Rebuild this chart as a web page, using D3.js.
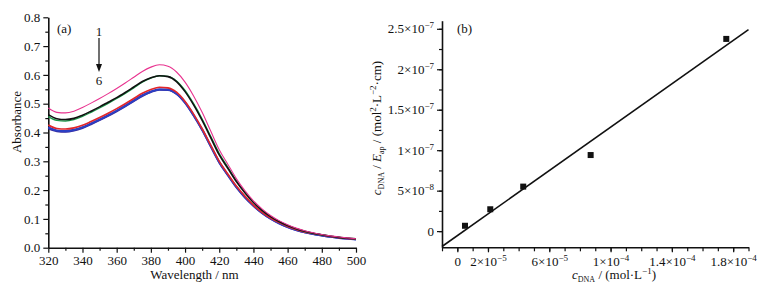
<!DOCTYPE html>
<html><head><meta charset="utf-8">
<script src="https://cdn.jsdelivr.net/npm/d3@7/dist/d3.min.js"></script>
<style>
html,body{margin:0;padding:0;background:#fff;}
svg text{font-family:"Liberation Serif","Times New Roman",serif;fill:#111;}
</style></head><body>
<svg id="c" width="766" height="288"></svg>
<script>
// ---------- Panel (a) data ----------
const wavelengths = [320,325,330,335,340,345,350,355,360,365,370,375,380,385,390,395,400,405,410,415,420,425,430,435,440,445,450,455,460,465,470,475,480,485,490,495,500];
const curve1 = [0.485,0.470,0.468,0.474,0.487,0.502,0.518,0.535,0.553,0.572,0.592,0.612,0.627,0.635,0.630,0.610,0.575,0.527,0.470,0.405,0.340,0.290,0.240,0.198,0.163,0.135,0.112,0.094,0.080,0.068,0.059,0.052,0.046,0.041,0.037,0.034,0.031];
const curve2 = [0.462,0.448,0.445,0.449,0.460,0.474,0.489,0.505,0.521,0.539,0.558,0.577,0.590,0.597,0.594,0.577,0.542,0.496,0.442,0.382,0.322,0.276,0.230,0.191,0.157,0.130,0.108,0.091,0.077,0.066,0.057,0.050,0.045,0.040,0.036,0.033,0.031];
const curve3 = [0.455,0.442,0.440,0.445,0.456,0.470,0.485,0.501,0.518,0.536,0.555,0.575,0.589,0.597,0.595,0.579,0.546,0.500,0.447,0.387,0.327,0.280,0.233,0.193,0.159,0.131,0.109,0.091,0.077,0.066,0.057,0.050,0.045,0.040,0.036,0.033,0.031];
const curve4 = [0.426,0.414,0.412,0.416,0.425,0.438,0.452,0.467,0.483,0.500,0.518,0.536,0.549,0.557,0.555,0.540,0.508,0.464,0.413,0.356,0.300,0.256,0.214,0.179,0.148,0.123,0.103,0.087,0.074,0.063,0.055,0.049,0.044,0.039,0.035,0.032,0.030];
const curve5 = [0.418,0.407,0.405,0.409,0.418,0.431,0.445,0.460,0.476,0.493,0.511,0.529,0.542,0.550,0.549,0.535,0.504,0.460,0.410,0.353,0.297,0.253,0.211,0.176,0.146,0.121,0.101,0.085,0.072,0.062,0.054,0.048,0.043,0.038,0.034,0.031,0.029];
const curve6 = [0.414,0.404,0.402,0.406,0.415,0.428,0.442,0.457,0.473,0.490,0.508,0.526,0.540,0.548,0.547,0.533,0.502,0.458,0.408,0.351,0.295,0.251,0.209,0.174,0.145,0.120,0.100,0.084,0.071,0.061,0.053,0.047,0.042,0.037,0.034,0.031,0.029];
const curveColors = ["#e8338f","#111111","#1a9a4a","#e2262a","#2b3fc4","#3a2a9a"];
const curveWidths = [1.1,1.6,1.3,1.6,2.2,1.6];
const xTicksA = [320,340,360,380,400,420,440,460,480,500];
const yTicksA = [0,0.1,0.2,0.3,0.4,0.5,0.6,0.7,0.8];

// ---------- Panel (b) data ----------
const cDNA = [5e-6, 2.15e-5, 4.3e-5, 8.7e-5, 1.755e-4];
const ratio = [6.6e-9, 2.7e-8, 5.5e-8, 9.4e-8, 2.375e-7];
const fitX = [-1e-5, 1.9e-4];
const fitY = [-1.9e-8, 2.49e-7];
const xTickValsB = [0, 2e-5, 6e-5, 1e-4, 1.4e-4, 1.8e-4];
const xTickMantB = ["0","2","6","1","1.4","1.8"];
const xTickExpB = ["","−5","−5","−4","−4","−4"];
const yTickValsB = [0, 5e-8, 1e-7, 1.5e-7, 2e-7, 2.5e-7];
const yTickMantB = ["0","5","1","1.5","2","2.5"];
const yTickExpB = ["","−8","−7","−7","−7","−7"];

const svg = d3.select("#c");
svg.append("rect").attr("width",766).attr("height",288).attr("fill","#fff");
const FONT = "'Liberation Serif','Times New Roman',serif";

// ===== Panel (a) =====
const xa = d3.scaleLinear().domain([320,500]).range([48.3,356]);
const ya = d3.scaleLinear().domain([0,0.8]).range([247.7,17.3]);
const ga = svg.append("g").attr("font-family",FONT);

function styleAxis(g, fs){
  g.attr("font-family",FONT);
  g.selectAll("path.domain").attr("stroke","#111").attr("stroke-width",1.6);
  g.selectAll(".tick line").attr("stroke","#111").attr("stroke-width",1.2);
  g.selectAll("text").attr("font-size",fs).attr("fill","#111");
}
// minor ticks
ga.append("g").attr("transform","translate(0,247.7)")
  .call(d3.axisBottom(xa).tickValues(d3.range(330,500,20)).tickSize(3).tickFormat(""))
  .call(g=>{styleAxis(g,13); g.select("path.domain").remove();});
ga.append("g").attr("transform","translate(48.3,0)")
  .call(d3.axisLeft(ya).tickValues(d3.range(0.05,0.8,0.1)).tickSize(3).tickFormat(""))
  .call(g=>{styleAxis(g,13); g.select("path.domain").remove();});
ga.append("g").attr("transform","translate(0,247.7)")
  .call(d3.axisBottom(xa).tickValues(xTicksA).tickSize(5).tickSizeOuter(0).tickPadding(3).tickFormat(d3.format("d")))
  .call(g=>styleAxis(g,13));
ga.append("g").attr("transform","translate(48.3,0)")
  .call(d3.axisLeft(ya).tickValues(yTicksA).tickSize(5).tickSizeOuter(0).tickPadding(3).tickFormat(d3.format(".1f")))
  .call(g=>styleAxis(g,13));

const curves = [curve1,curve2,curve3,curve4,curve5,curve6];
const line = d3.line().curve(d3.curveMonotoneX);
[5,4,3,2,1,0].forEach(i=>{
  const pts = wavelengths.map((w,j)=>[xa(w), ya(curves[i][j])]);
  ga.append("path").attr("d",line(pts)).attr("fill","none")
    .attr("stroke",curveColors[i]).attr("stroke-width",curveWidths[i]);
});

ga.append("text").attr("transform","translate(16,122) rotate(-90)")
  .attr("text-anchor","middle").attr("dy","0.35em").attr("font-size",13).text("Absorbance");
ga.append("text").attr("x",194.5).attr("y",279).attr("text-anchor","middle").attr("font-size",13).text("Wavelength / nm");
ga.append("text").attr("x",57).attr("y",33).attr("font-size",13).text("(a)");
ga.append("text").attr("x",99).attr("y",36).attr("text-anchor","middle").attr("font-size",13).text("1");
ga.append("text").attr("x",99).attr("y",85).attr("text-anchor","middle").attr("font-size",13).text("6");
ga.append("line").attr("x1",99).attr("x2",99).attr("y1",38).attr("y2",67).attr("stroke","#111").attr("stroke-width",1.2);
ga.append("path").attr("d","M96,64 L102,64 L99,72 Z").attr("fill","#111");

// ===== Panel (b) =====
const xb = d3.scaleLinear().domain([-1e-5,1.9e-4]).range([442,748.5]);
const yb = d3.scaleLinear().domain([-2e-8,2.6e-7]).range([247.3,20.7]);
const gb = svg.append("g").attr("font-family",FONT);

gb.append("g").attr("transform","translate(0,247.3)")
  .call(d3.axisBottom(xb).tickValues(d3.range(-1,20).map(k=>k*1e-5)).tickSize(4).tickSizeOuter(0).tickFormat(""))
  .call(g=>styleAxis(g,13));
gb.append("g").attr("transform","translate(442,0)")
  .call(d3.axisLeft(yb).tickValues(d3.range(0,11).map(k=>k*2.5e-8)).tickSize(3).tickSizeOuter(0).tickFormat(""))
  .call(g=>styleAxis(g,13));

const xax = gb.append("g").attr("transform","translate(0,247.3)")
  .call(d3.axisBottom(xb).tickValues(xTickValsB).tickSize(5).tickPadding(4).tickFormat(""));
styleAxis(xax,13); xax.select("path.domain").remove();
xax.selectAll(".tick text").each(function(d,i){
  const t=d3.select(this);
  t.append("tspan").text(xTickMantB[i]+(xTickExpB[i]?"×10":""));
  if(xTickExpB[i]) t.append("tspan").attr("dy",-5).attr("font-size",9).text(xTickExpB[i]);
});
const yax = gb.append("g").attr("transform","translate(442,0)")
  .call(d3.axisLeft(yb).tickValues(yTickValsB).tickSize(5).tickPadding(3).tickFormat(""));
styleAxis(yax,13); yax.select("path.domain").remove();
yax.selectAll(".tick text").each(function(d,i){
  const t=d3.select(this);
  t.append("tspan").text(yTickMantB[i]+(yTickExpB[i]?"×10":""));
  if(yTickExpB[i]) t.append("tspan").attr("dy",-5).attr("font-size",9).text(yTickExpB[i]);
});

gb.append("line").attr("x1",xb(fitX[0])).attr("y1",yb(fitY[0])).attr("x2",xb(fitX[1])).attr("y2",yb(fitY[1]))
  .attr("stroke","#111").attr("stroke-width",1.6);
gb.selectAll("rect.pt").data(cDNA).enter().append("rect").attr("class","pt")
  .attr("x",(d)=>xb(d)-3).attr("y",(d,i)=>yb(ratio[i])-3).attr("width",6).attr("height",6).attr("fill","#111");

gb.append("text").attr("x",457).attr("y",33).attr("font-size",13).text("(b)");

const xt = gb.append("text").attr("x",614).attr("y",279).attr("text-anchor","middle").attr("font-size",13);
xt.append("tspan").attr("font-style","italic").text("c");
xt.append("tspan").attr("font-size",8).attr("dy",3).text("DNA");
xt.append("tspan").attr("dy",-3).text(" / (mol·L");
xt.append("tspan").attr("font-size",9).attr("dy",-5).text("−1");
xt.append("tspan").attr("dy",5).text(")");

const yt = gb.append("text").attr("transform","translate(381,128) rotate(-90)").attr("text-anchor","middle").attr("font-size",13);
yt.append("tspan").attr("font-style","italic").text("c");
yt.append("tspan").attr("font-size",8).attr("dy",3).text("DNA");
yt.append("tspan").attr("dy",-3).text(" / ");
yt.append("tspan").attr("font-style","italic").text("E");
yt.append("tspan").attr("font-size",8).attr("dy",3).text("ap");
yt.append("tspan").attr("dy",-3).text(" / (mol");
yt.append("tspan").attr("font-size",9).attr("dy",-5).text("2");
yt.append("tspan").attr("dy",5).text("·L");
yt.append("tspan").attr("font-size",9).attr("dy",-5).text("−2");
yt.append("tspan").attr("dy",5).text("·cm)");
</script>
</body></html>
